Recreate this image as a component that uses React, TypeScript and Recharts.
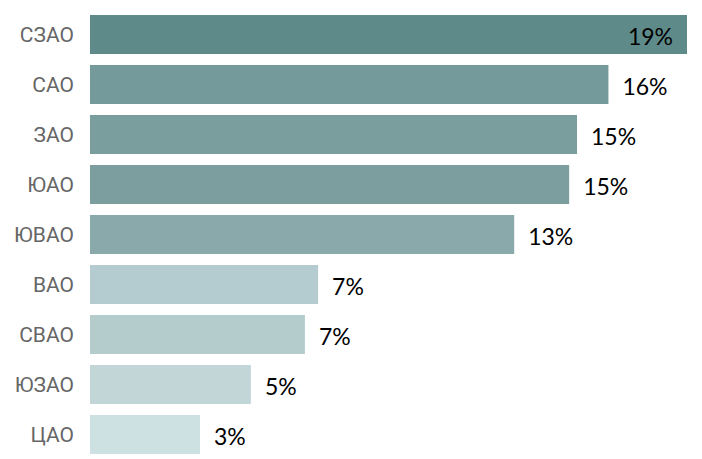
import { Bar, BarChart, Cell, LabelList, XAxis, YAxis } from 'recharts'

const districts = ['СЗАО', 'САО', 'ЗАО', 'ЮАО', 'ЮВАО', 'ВАО', 'СВАО', 'ЮЗАО', 'ЦАО']
const shares = [19, 16.5, 15.5, 15.25, 13.5, 7.26, 6.84, 5.12, 3.5]
const shareLabels = ['19%', '16%', '15%', '15%', '13%', '7%', '7%', '5%', '3%']
const colors = ['#5f8a8a', '#759a9b', '#7a9d9e', '#7c9e9f', '#89a9aa', '#b4cccf', '#b5cccd', '#c2d6d8', '#cde0e2']

const data = districts.map((name, i) => ({ name, value: shares[i], label: shareLabels[i] }))

const ValueLabel = (props: any) => {
  const { x, y, width, height, index } = props
  const inside = index === 0
  return (
    <text
      x={inside ? x + width - 14 : x + width + 14}
      y={y + height / 2 + 1}
      textAnchor={inside ? 'end' : 'start'}
      dominantBaseline="central"
      fontFamily="Lato"
      fontSize={23}
      fill="#000"
    >
      {shareLabels[index]}
    </text>
  )
}

export default function App() {
  return (
    <div style={{ position: 'absolute', left: 0, top: 0, background: '#fff' }}>
      <BarChart
        width={702}
        height={459}
        data={data}
        layout="vertical"
        margin={{ top: 9, right: 15, bottom: 0, left: 0 }}
        barSize={39}
      >
        <XAxis type="number" domain={[0, 19]} hide />
        <YAxis
          type="category"
          dataKey="name"
          width={90}
          axisLine={false}
          tickLine={false}
          tickMargin={10}
          tick={{ fill: '#666666', fontSize: 21, fontFamily: 'Roboto', dy: 1 }}
        />
        <Bar dataKey="value" isAnimationActive={false}>
          {data.map((d, i) => (
            <Cell key={d.name} fill={colors[i]} />
          ))}
          <LabelList dataKey="label" content={ValueLabel} />
        </Bar>
      </BarChart>
    </div>
  )
}
